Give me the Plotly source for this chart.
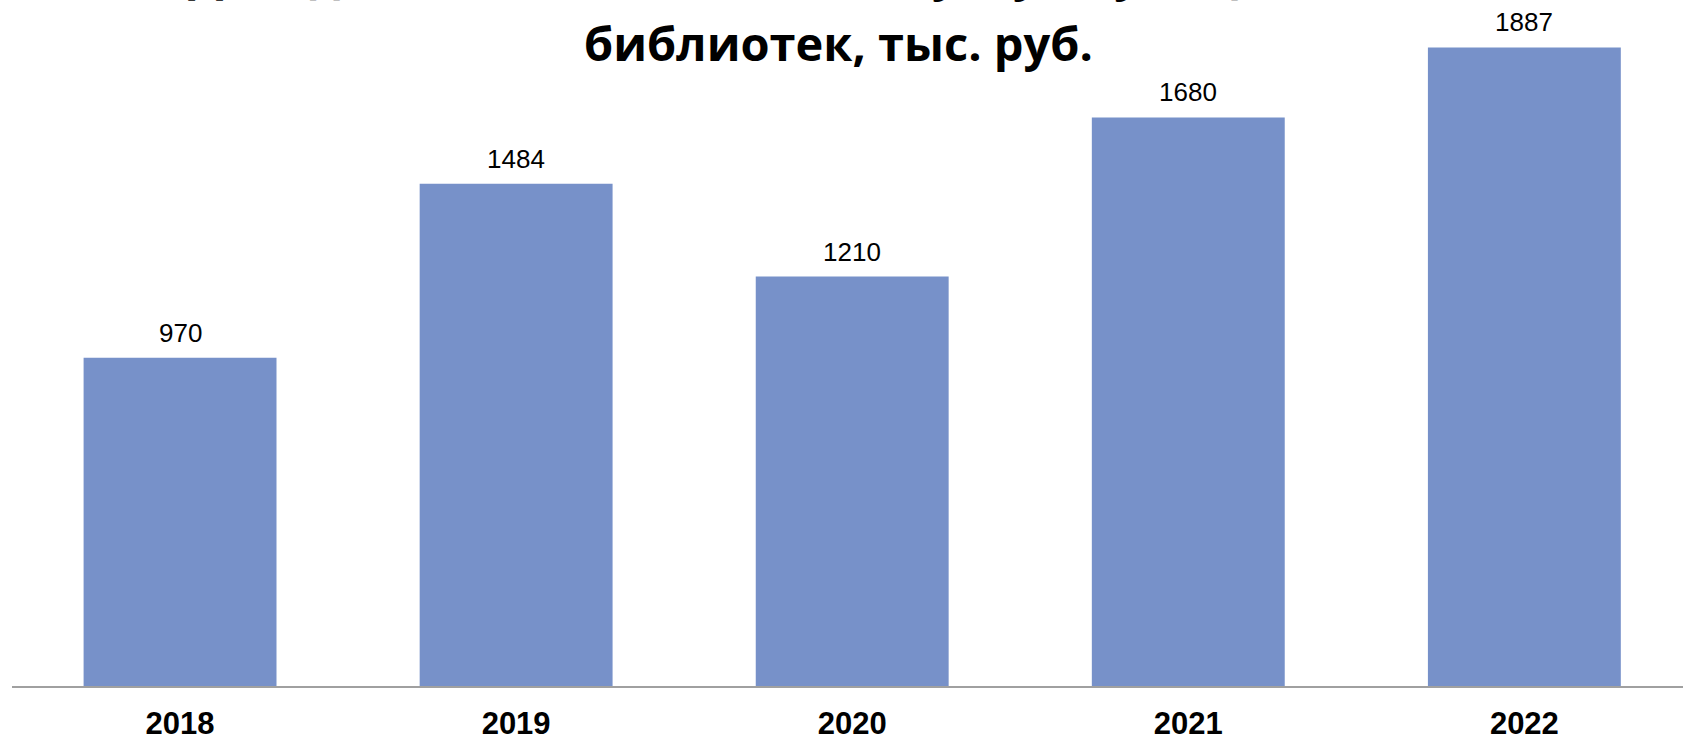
import plotly.graph_objects as go

years = ["2018", "2019", "2020", "2021", "2022"]
values = [970, 1484, 1210, 1680, 1887]
title_line1 = "Доходы от оказания платных услуг муниципальных"
title_line2 = "библиотек, тыс. руб."

W, H = 1683, 740
plot_top, plot_bottom = 0, 686
plot_h = plot_bottom - plot_top
plot_w = W - 12

fig = go.Figure()
fig.add_trace(go.Bar(
    x=years, y=values,
    marker=dict(color="#7791C9", line=dict(width=0)),
    hoverinfo="skip",
))

for i, v in enumerate(values):
    fig.add_annotation(
        x=i, y=v, xref="x", yref="y", text=str(v), showarrow=False,
        yanchor="bottom", yshift=8,
        font=dict(family="Liberation Sans, Arial", size=26, color="#000000"),
    )

title_x = 0.5 - 9 / plot_w
fig.add_annotation(
    x=title_x, xref="paper", y=1 - 43 / plot_h, yref="paper",
    text="<b>" + title_line2 + "</b>", showarrow=False, yanchor="middle",
    font=dict(family="Open Sans", size=47, color="#000000"),
)
fig.add_annotation(
    x=title_x, xref="paper", y=1 + 27 / plot_h, yref="paper",
    text="<b>" + title_line1 + "</b>", showarrow=False, yanchor="middle",
    font=dict(family="Open Sans", size=47, color="#000000"),
)

fig.update_layout(
    width=W, height=H,
    margin=dict(l=12, r=0, t=plot_top, b=H - plot_bottom, pad=0),
    paper_bgcolor="white", plot_bgcolor="white",
    bargap=0.426, showlegend=False,
    xaxis=dict(
        type="category", range=[-0.5, 4.472], showgrid=False,
        showline=True, linecolor="#A0A0A0", linewidth=2,
        ticks="", ticklabelstandoff=9,
        tickfont=dict(family="Liberation Sans, Arial", size=31, color="#000000", weight="bold"),
        fixedrange=True,
    ),
    yaxis=dict(
        range=[0, 2027], visible=False, showgrid=False, zeroline=False, fixedrange=True,
    ),
)

fig.write_html(
    "out.html",
    config={"displayModeBar": False},
    post_script="document.body.style.margin='0';document.body.style.overflow='hidden';",
)
